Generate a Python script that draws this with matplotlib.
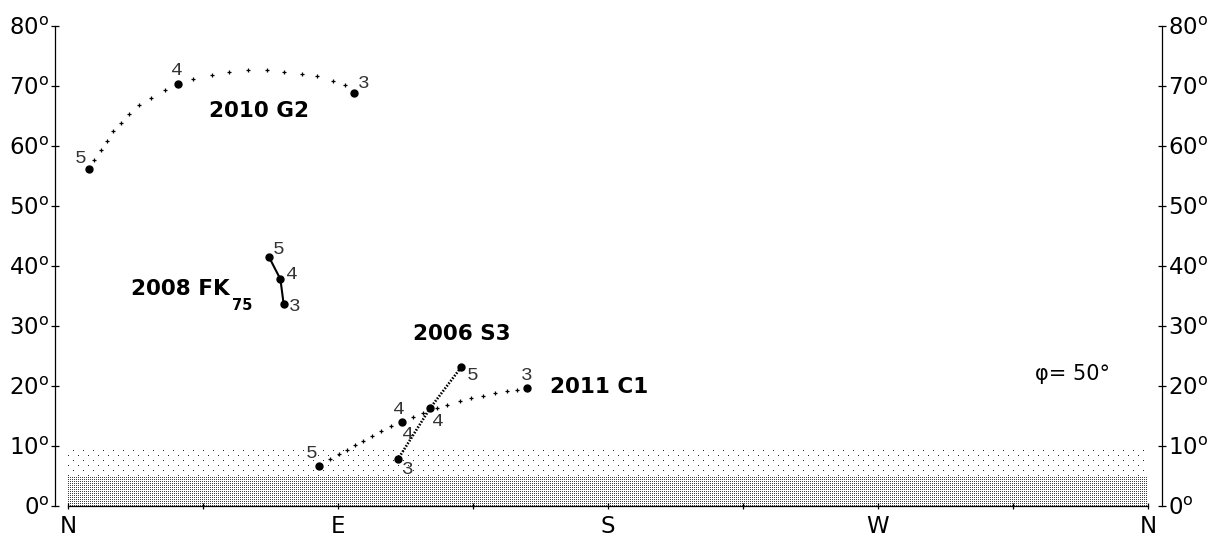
import matplotlib
matplotlib.use("Agg")
import matplotlib.pyplot as plt
import numpy as np

plt.rcParams['font.family'] = ['DejaVu Sans']
plt.rcParams['mathtext.fontset'] = 'custom'
plt.rcParams['mathtext.rm'] = 'DejaVu Sans'
plt.rcParams['mathtext.bf'] = 'DejaVu Sans:bold'

# azimuth (deg from N through E) / altitude (deg) of each comet, months 5, 4, 3
g2_az = [7.1, 36.8, 95.3]
g2_alt = [56.2, 70.3, 68.9]
g2_path_az = [8.8, 10.9, 12.9, 15.1, 17.6, 20.4, 23.8, 27.6, 32.3,
              41.8, 47.9, 53.8, 59.9, 66.2, 72.0, 78.0, 82.9, 88.2, 92.3]
g2_path_alt = [57.7, 59.3, 60.9, 62.5, 63.9, 65.4, 66.9, 68.0, 69.3,
               71.2, 71.8, 72.4, 72.7, 72.7, 72.4, 72.0, 71.6, 70.8, 70.2]

fk_az = [67.0, 70.8, 71.9]
fk_alt = [41.5, 37.8, 33.6]

c1_az = [83.8, 111.4, 152.9]
c1_alt = [6.7, 14.0, 19.6]
c1_path_az = [87.3, 90.4, 93.1, 95.6, 98.4, 101.3, 104.4, 107.8,
              114.9, 118.4, 122.9, 126.4, 130.7, 134.4, 138.4, 142.4, 146.2, 149.6]
c1_path_alt = [7.8, 8.7, 9.4, 10.2, 10.9, 11.7, 12.5, 13.3,
               14.9, 15.5, 16.4, 16.9, 17.5, 18.0, 18.4, 18.8, 19.2, 19.4]

s3_az = [131.0, 120.7, 110.1]
s3_alt = [23.1, 16.3, 7.9]

months = ['5', '4', '3']
dir_ticks = [0, 45, 90, 135, 180, 225, 270, 315, 360]
dir_labels = ['N', '', 'E', '', 'S', '', 'W', '', 'N']
alt_ticks = [0, 10, 20, 30, 40, 50, 60, 70, 80]
haze_dense_top = 5.0
haze_top = 9.33

W, H = 1220, 539
fig = plt.figure(figsize=(W / 100, H / 100), dpi=100)
# axes box on whole pixels: 3 px per degree of azimuth, 6 px per degree of altitude
ax = fig.add_axes([55 / W, 33 / H, 1107 / W, 480 / H])
ax.set_facecolor('none')
ax.set_xlim(-13 / 3, 360 + 14 / 3)
ax.set_ylim(0, 80)

# horizon haze: fine dot screen below 5 deg, sparse dots above, drawn pixel for pixel
w, h = 360 * 3, int(round(haze_top * 6))
hd = int(round(haze_dense_top * 6))
rr, cc = np.mgrid[0:h, 0:w]
dense = (rr < hd) & (rr % 2 == 0) & (cc % 2 == 0)
sparse = (rr >= hd) & (rr % 5 == 0) & ((((rr // 5) % 2 == 0) & (cc % 10 == 0))
                                       | (((rr // 5) % 2 == 1) & (cc % 10 == 5)))
tex = np.zeros((h, w, 4))
tex[..., 3] = np.where(dense, 0.75, 0) + np.where(sparse, 0.85, 0)
fig.figimage(tex, xo=68, yo=33, origin='lower', zorder=-1)

ptkw = dict(color='black', marker='o', ms=5, ls='none', zorder=4)
pathkw = dict(color='black', marker='+', ms=3, mew=0.9, ls='none', zorder=3)

ax.plot(g2_path_az, g2_path_alt, **pathkw)
ax.plot(g2_az, g2_alt, **ptkw)

ax.plot(c1_path_az, c1_path_alt, **pathkw)
ax.plot(c1_az, c1_alt, **ptkw)

ax.plot(s3_az, s3_alt, color='black', lw=1.9, ls=(0, (0.6, 0.6)), zorder=3)
ax.plot(s3_az, s3_alt, **ptkw)

ax.plot(fk_az, fk_alt, color='black', lw=1.5, zorder=3)
ax.plot(fk_az, fk_alt, **ptkw)

numkw = dict(textcoords='offset pixels', ha='center', va='center',
             family='Liberation Mono', fontsize=14, color='#333333')


def label_months(az, alt, offsets):
    for m, x, y, off in zip(months, az, alt, offsets):
        ax.annotate(m, (x, y), xytext=off, **numkw)


label_months(g2_az, g2_alt, [(-9, 10), (-2, 14), (10, 9)])
label_months(fk_az, fk_alt, [(10, 8), (11, 5), (11, -2)])
label_months(c1_az, c1_alt, [(-8, 12), (-3, 13), (0, 13)])
label_months(s3_az, s3_alt, [(12, -8), (8, -13), (9, -11)])
ax.annotate('4', (s3_az[1], s3_alt[1]), xytext=(-22, -26), **numkw)

namekw = dict(fontsize=15.5, fontweight='bold', zorder=5)
ax.text(63.7, 65.8, '2010 G2', ha='center', va='center', **namekw)
fk_txt = ax.text(21.0, 35.1, '2008 FK', ha='left', va='baseline', **namekw)
ax.annotate('75', (1, 0), xycoords=fk_txt, xytext=(2, -11), textcoords='offset pixels',
            ha='left', va='baseline', fontsize=10.5, fontweight='bold')
ax.text(131.3, 28.6, '2006 S3', ha='center', va='center', **namekw)
ax.text(177.0, 19.8, '2011 C1', ha='center', va='center', **namekw)
ax.text(334.7, 22.0, 'φ= 50°', ha='center', va='center', fontsize=15)

ax.spines['top'].set_visible(False)
ax.spines['bottom'].set_bounds(0, 360)
for s in ['left', 'right', 'bottom']:
    ax.spines[s].set_linewidth(0.9)

ax.set_xticks(dir_ticks)
ax.set_xticklabels(dir_labels)
ax.set_yticks(alt_ticks)
ax.set_yticklabels([f'{a}$^{{\\rm o}}$' for a in alt_ticks])
ax.tick_params(axis='y', direction='inout', length=6, width=0.9, pad=1,
               labelsize=16.5, left=True, right=True, labelleft=True, labelright=True)
ax.tick_params(axis='x', direction='inout', length=5, width=0.9, pad=4,
               labelsize=16.5)

fig.savefig('out.png', dpi=100)
